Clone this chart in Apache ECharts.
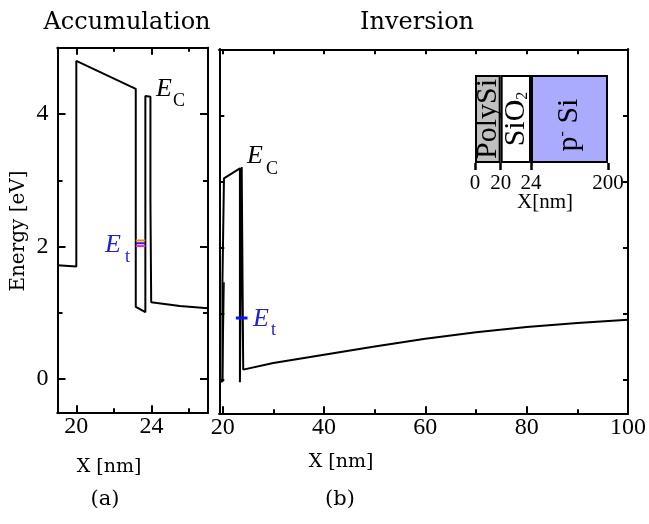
<!DOCTYPE html>
<html><head><meta charset="utf-8">
<script src="https://cdn.jsdelivr.net/npm/echarts@6/dist/echarts.min.js"></script>
<style>html,body{margin:0;padding:0;background:#fff}#c{width:649px;height:524px}</style>
</head><body><div id="c"></div>
<script>
// ---------- data ----------
// (a) Accumulation: conduction band edge
const accX  = [19, 20, 20, 23.16, 23.16, 23.67, 23.67, 23.94, 23.94, 23.98, 23.98, 25.5, 27];
const accEc = [1.72, 1.70, 4.80, 4.38, 1.09, 1.01, 4.27, 4.26, 2.68, 2.68, 1.16, 1.105, 1.07];
// (a) trap levels
const accEtX = [23.16, 23.67];
const accEtLevels = [2.09, 2.05, 2.01];
const accEtColors = ['#ff8000', '#2020e0', '#ff20e0'];
// (b) Inversion: conduction band edge
const invX  = [19.33, 19.95, 19.95, 20.25, 20.25, 23.4, 23.4, 23.75, 23.75, 24.05, 24.05, 24.4, 30, 40, 50, 60, 70, 80, 90, 100];
const invEc = [-0.02, -0.02, 1.48, 1.48, 3.05, 3.2, -0.03, -0.04, 3.22, 3.22, 0.16, 0.155, 0.26, 0.385, 0.51, 0.625, 0.725, 0.805, 0.865, 0.915];
const invInnerX  = [19.95, 20.25, 20.25];
const invInnerEc = [-0.02, -0.02, 1.48];
// (b) trap level
const invEtX = [22.6, 24.9];
const invEt  = 0.94;
// axis ticks
const aXMajor = [20, 24], aXMinor = [22, 26];
const aYMajor = [0, 2, 4], aYMinor = [1, 3];
const bXMajor = [20, 40, 60, 80, 100], bXMinor = [30, 50, 70, 90];
const bXTop = [20, 30, 40, 50, 60, 70, 80, 90, 100];
const bY = [0, 1, 2, 3, 4];
// inset schematic
const insetLayers = ['PolySi', 'SiO2', 'p- Si'];
const insetSpan = [1, 1.18, 3.0];
const insetTickLabels = ['0', '20', '24', '200'];
const insetColors = ['#c0c0c0', '#ffffff', '#aaaaff'];

// ---------- helpers ----------
const BLACK = '#000';
function xa(gi, pos, min, max, ticks, len, labels, extra) {
  return Object.assign({
    type: 'value', gridIndex: gi, position: pos, min: min, max: max,
    axisLine: {show: true, onZero: false, lineStyle: {color: BLACK, width: 2}},
    axisTick: {show: true, inside: true, length: len, customValues: ticks, lineStyle: {color: BLACK, width: 2}},
    axisLabel: labels ? {show: true, customValues: labels, margin: 2, color: BLACK,
      fontFamily: 'Liberation Serif', fontSize: 24} : {show: false},
    splitLine: {show: false}
  }, extra || {});
}
function ya(gi, pos, ticks, len, labels) {
  return {
    type: 'value', gridIndex: gi, position: pos, min: -0.5, max: 5,
    axisLine: {show: true, onZero: false, lineStyle: {color: BLACK, width: 2}},
    axisTick: {show: true, inside: true, length: len, customValues: ticks, lineStyle: {color: BLACK, width: 2}},
    axisLabel: labels ? {show: true, customValues: labels, margin: 9, color: BLACK,
      fontFamily: 'Liberation Serif', fontSize: 24} : {show: false},
    splitLine: {show: false}
  };
}
function zip(xs, ys) { return xs.map((x, i) => [x, ys[i]]); }
function line(data, xi, yi, color, width) {
  return {type: 'line', xAxisIndex: xi, yAxisIndex: yi, data: data, symbol: 'none', showSymbol: false,
    lineStyle: {color: color, width: width}, silent: true, animation: false, clip: true, z: 5};
}

const xAxes = [
  xa(0, 'bottom', 19, 27, aXMajor, 7, aXMajor),
  xa(0, 'bottom', 19, 27, aXMinor, 4, null),
  xa(0, 'top', 19, 27, aXMajor, 7, null),
  xa(0, 'top', 19, 27, aXMinor, 4, null),
  xa(1, 'bottom', 19.33, 100, bXMajor, 7, bXMajor),
  xa(1, 'bottom', 19.33, 100, bXMinor, 4, null),
  xa(1, 'top', 19.33, 100, bXTop, 5, null),
  xa(1, 'top', 19.33, 100, bXTop, 5, null)
];
const cum = [0];
insetSpan.forEach((s, i) => cum.push(cum[i] + s));
xAxes.push({
  type: 'value', gridIndex: 2, min: 0, max: cum[cum.length - 1],
  axisLine: {show: false},
  axisTick: {show: true, inside: false, length: 7, customValues: cum, lineStyle: {color: BLACK, width: 2.5}},
  axisLabel: {show: true, customValues: cum, margin: 10, color: BLACK, fontFamily: 'Liberation Serif', fontSize: 21,
    formatter: function (v) {
      for (let i = 0; i < cum.length; i++) if (Math.abs(cum[i] - v) < 1e-6) return insetTickLabels[i];
      return '';
    }},
  splitLine: {show: false}
});
const yAxes = [
  ya(0, 'left', aYMajor, 8, aYMajor),
  ya(0, 'left', aYMinor, 5, null),
  ya(0, 'right', aYMajor, 8, null),
  ya(0, 'right', aYMinor, 5, null),
  ya(1, 'left', bY, 5, null),
  ya(1, 'left', bY, 5, null),
  ya(1, 'right', bY, 5, null),
  ya(1, 'right', bY, 5, null),
  {type: 'category', gridIndex: 2, data: ['stack'], show: false}
];

const series = [];
series.push(line(zip(accX, accEc), 0, 0, BLACK, 2));
accEtLevels.forEach((lv, i) => series.push(line(zip(accEtX, [lv, lv]), 0, 0, accEtColors[i], 2)));
series.push(line(zip(invX, invEc), 4, 4, BLACK, 2));
series.push(line(zip(invInnerX, invInnerEc), 4, 4, BLACK, 1.6));
series.push(line(zip(invEtX, [invEt, invEt]), 4, 4, '#1010ff', 3));

const labelFormats = ['{m|PolySi}', '{m|SiO}{sub|2}', '{m|p}{sup|-}{m| Si}'];
const labelOffsets = [[0, 0], [0, 0], [-6, 0]];
insetLayers.forEach((name, i) => {
  series.push({
    type: 'bar', name: name, stack: 'inset', xAxisIndex: 8, yAxisIndex: 8, barWidth: '100%',
    data: [insetSpan[i]], silent: true, animation: false,
    itemStyle: {color: insetColors[i], borderColor: BLACK, borderWidth: 2},
    label: {show: true, position: 'inside', rotate: 90, formatter: labelFormats[i], offset: labelOffsets[i],
      rich: {
        m: {fontFamily: 'Liberation Serif', fontSize: 30, color: BLACK},
        sub: {fontFamily: 'Liberation Serif', fontSize: 16, color: BLACK, verticalAlign: 'bottom'},
        sup: {fontFamily: 'Liberation Serif', fontSize: 16, color: BLACK, verticalAlign: 'top'}
      }}
  });
});

function txt(x, y, text, size, opts) {
  return Object.assign({type: 'text', x: x, y: y, silent: true,
    style: Object.assign({text: text, fontSize: size, fontFamily: 'DejaVu Serif', fill: BLACK,
      align: 'center', verticalAlign: 'middle'}, (opts && opts.style) || {})},
    opts && opts.rotation ? {rotation: opts.rotation} : {});
}
const ETC = '#2222cc';
const graphics = [
  txt(127, 23, 'Accumulation', 24),
  txt(417, 23, 'Inversion', 24),
  txt(19, 231, 'Energy [eV]', 20, {rotation: Math.PI / 2}),
  txt(109, 467, 'X [nm]', 19),
  txt(341, 462, 'X [nm]', 19),
  txt(105, 500, '(a)', 21),
  txt(340, 500, '(b)', 21),
  txt(545, 202, 'X[nm]', 21, {style: {fontFamily: 'Liberation Serif'}}),
  // E_C labels
  txt(156, 89, 'E', 26, {style: {fontFamily: 'Liberation Serif', fontStyle: 'italic', align: 'left'}}),
  txt(173, 101, 'C', 18, {style: {fontFamily: 'Liberation Serif', align: 'left'}}),
  txt(247, 156, 'E', 26, {style: {fontFamily: 'Liberation Serif', fontStyle: 'italic', align: 'left'}}),
  txt(266, 169, 'C', 18, {style: {fontFamily: 'Liberation Serif', align: 'left'}}),
  // E_t labels
  txt(105, 245, 'E', 26, {style: {fontFamily: 'Liberation Serif', fontStyle: 'italic', align: 'left', fill: ETC}}),
  txt(125, 257, 't', 18, {style: {fontFamily: 'Liberation Serif', align: 'left', fill: ETC}}),
  txt(253, 319, 'E', 26, {style: {fontFamily: 'Liberation Serif', fontStyle: 'italic', align: 'left', fill: ETC}}),
  txt(271, 330, 't', 18, {style: {fontFamily: 'Liberation Serif', align: 'left', fill: ETC}})
];

const chart = echarts.init(document.getElementById('c'), null, {renderer: 'canvas'});
chart.setOption({
  animation: false,
  backgroundColor: '#fff',
  grid: [
    {left: 57.5, top: 47.7, width: 150.5, height: 364.6},
    {left: 219.3, top: 49.3, width: 412.4, height: 364},
    {left: 475, top: 75, width: 133, height: 88}
  ],
  xAxis: xAxes,
  yAxis: yAxes,
  series: series,
  graphic: graphics
});
</script></body></html>
